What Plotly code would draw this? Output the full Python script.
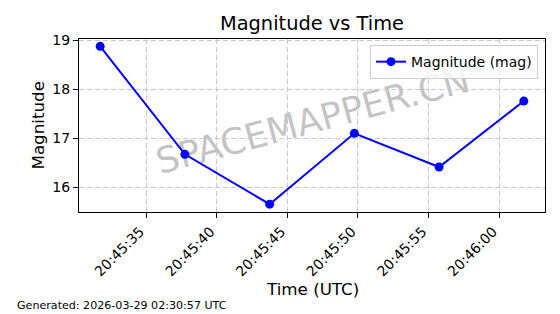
import plotly.graph_objects as go

times = ["2026-03-29 20:45:31.75", "2026-03-29 20:45:37.75", "2026-03-29 20:45:43.75",
         "2026-03-29 20:45:49.75", "2026-03-29 20:45:55.75", "2026-03-29 20:46:01.75"]
magnitudes = [18.88, 16.67, 15.65, 17.10, 16.41, 17.76]
series_name = "Magnitude (mag)"
title_text = "Magnitude vs Time"
x_label = "Time (UTC)"
y_label = "Magnitude"
footer_text = "Generated: 2026-03-29 02:30:57 UTC"
watermark = "SPACEMAPPER.CN"

FONT = "DejaVu Sans"

fig = go.Figure()
fig.add_trace(go.Scatter(
    x=times, y=magnitudes, mode="lines+markers", name=series_name,
    line=dict(color="#0000ff", width=2),
    marker=dict(color="#0000ff", size=9),
))

L, R, T, B = 79, 15, 39, 102
W, H = 560, 314

fig.update_layout(
    width=W, height=H,
    margin=dict(l=L, r=R, t=T, b=B),
    paper_bgcolor="white", plot_bgcolor="white",
    font=dict(family=FONT, color="black", size=14),
    showlegend=True,
    legend=dict(x=0.985, y=0.965, xanchor="right", yanchor="top",
                bgcolor="rgba(255,255,255,0.8)", bordercolor="#cccccc", borderwidth=1,
                font=dict(family=FONT, size=14), itemwidth=30),
    title=dict(text=title_text, x=0.5, xref="paper", y=1 - 23 / H, yref="container",
               xanchor="center", yanchor="middle", font=dict(family=FONT, size=19.4)),
)

fig.update_xaxes(
    type="date", range=["2026-03-29 20:45:30.25", "2026-03-29 20:46:03.25"],
    dtick=5000, tick0="2026-03-29 20:45:00", tickformat="%H:%M:%S", tickangle=-45,
    ticklabelshift=-6,
    showgrid=True, gridcolor="#c8c8c8", griddash="5px,3px", gridwidth=1,
    showline=True, linecolor="black", linewidth=1, mirror=True,
    ticks="outside", ticklen=5, tickcolor="black", tickwidth=1,
    tickfont=dict(family=FONT, size=14), zeroline=False,
)
fig.update_yaxes(
    range=[15.49, 19.03], dtick=1, tick0=0,
    showgrid=True, gridcolor="#c8c8c8", griddash="5px,3px", gridwidth=1,
    showline=True, linecolor="black", linewidth=1, mirror=True,
    ticks="outside", ticklen=5, tickcolor="black", tickwidth=1,
    tickfont=dict(family=FONT, size=14), zeroline=False,
)

# watermark below the data
fig.add_shape(type="rect", xref="paper", yref="paper", x0=0.4, x1=0.6, y0=0.497, y1=0.597,
              line=dict(width=0), fillcolor="rgba(0,0,0,0)", layer="below",
              label=dict(text=watermark, textangle=-15, textposition="middle center",
                         font=dict(family=FONT, size=36, color="rgba(128,128,128,0.47)")))

fig.add_annotation(text=y_label, xref="paper", yref="paper", x=-(L - 37) / 466, y=0.5,
                   xanchor="center", yanchor="middle", textangle=-90, showarrow=False,
                   font=dict(family=FONT, size=16.7))
fig.add_annotation(text=x_label, xref="paper", yref="paper", x=0.5, y=-(289 - 212) / 173,
                   xanchor="center", yanchor="middle", showarrow=False,
                   font=dict(family=FONT, size=16.7))
fig.add_annotation(text=footer_text, xref="paper", yref="paper", x=-(L - 15) / 466,
                   y=-(305 - 212) / 173, xanchor="left", yanchor="middle", showarrow=False,
                   font=dict(family=FONT, size=11.1))

fig.write_html("out.html")
